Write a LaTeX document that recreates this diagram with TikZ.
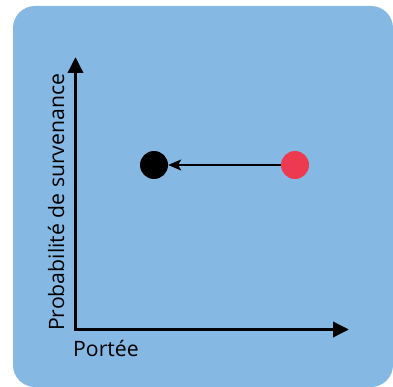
\documentclass[tikz,border=0pt]{standalone}
\usepackage{fontspec}
\setmainfont{Open Sans}
\usetikzlibrary{arrows.meta}
\definecolor{bg}{HTML}{85B9E3}
\definecolor{reddot}{HTML}{EE3A50}
\begin{document}
\begin{tikzpicture}[x=1pt,y=-1pt,
  axis/.style={line width=3.5pt,-{Triangle[length=16pt,width=15pt]}},
  dot/.style={circle,inner sep=0pt,minimum size=28pt},
  lbl/.style={font=\fontsize{21.2}{24}\selectfont,inner sep=0pt}]
\useasboundingbox (0,0) rectangle (393,387);
\fill[bg,rounded corners=22pt] (13,6) rectangle (393,387);
\coordinate (o) at (75.5,329.5);
\coordinate (ytip) at (75.5,57);
\coordinate (xtip) at (349,329.5);
\draw[axis] ([yshift=1.75pt]o) -- (ytip);
\draw[axis] ([xshift=-1.75pt]o) -- (xtip);
\node[dot,fill=black] (b) at (154,165) {};
\node[dot,fill=reddot] (r) at (295,165) {};
\draw[line width=1.5pt,-{Stealth[length=13pt,width=11pt,inset=3pt]}] (r) -- (b);
\node[lbl,anchor=base west] (px) at (73,356) {Portée};
\node[lbl,rotate=90,anchor=base west] (py) at (64,331) {Probabilité de survenance};
\end{tikzpicture}
\end{document}
